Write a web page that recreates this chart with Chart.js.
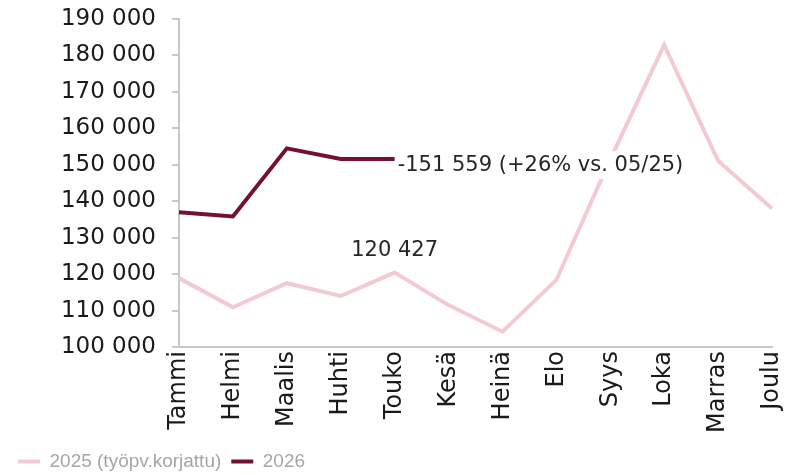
<!DOCTYPE html>
<html lang="fi">
<head>
  <meta charset="UTF-8">
  <title>Kuukausittain</title>
  <script src="https://cdn.jsdelivr.net/npm/chart.js"></script>
  <style>
    html, body { margin: 0; padding: 0; background: #fff; }
    .wrap { width: 803px; height: 475px; position: relative; }
  </style>
</head>
<body>
  <div class="wrap">
    <canvas id="kuukausiChart"></canvas>
  </div>

<script>
  // kuukaudet
  const kuukaudet = ["Tammi", "Helmi", "Maalis", "Huhti", "Touko", "Kesä", "Heinä", "Elo", "Syys", "Loka", "Marras", "Joulu"];
  // 2025 työpäiväkorjattu
  const arvot2025 = [118900, 110900, 117500, 114000, 120427, 111500, 104200, 118400, 151500, 182900, 151100, 138000];
  // 2026 (vain alkuvuosi)
  const arvot2026 = [137000, 135800, 154500, 151600, 151559];
  const yTicks = [100000, 110000, 120000, 130000, 140000, 150000, 160000, 170000, 180000, 190000];

  function muotoile(n) {
    return String(Math.round(n)).replace(/\B(?=(\d{3})+(?!\d))/g, " ");
  }

  const viimeinen = arvot2026.length - 1;
  const muutos = Math.round((arvot2026[viimeinen] / arvot2025[viimeinen] - 1) * 100);

  // tekstit pisteiden viereen
  const tekstiPlugin = {
    id: "tekstit",
    afterDatasetsDraw(chart) {
      const ctx = chart.ctx;
      const x = chart.scales.x.getPixelForValue(viimeinen);
      const y25 = chart.scales.y.getPixelForValue(arvot2025[viimeinen]);
      const y26 = chart.scales.y.getPixelForValue(arvot2026[viimeinen]);
      ctx.save();
      ctx.font = "21px 'DejaVu Sans'";
      ctx.textBaseline = "middle";

      const t2 = "-" + muotoile(arvot2026[viimeinen]) + " (+" + muutos + "% vs. 05/25)";
      const w = ctx.measureText(t2).width;
      ctx.fillStyle = "#fff";
      ctx.fillRect(x + 3, y26 - 8, w + 4, 28);
      ctx.fillStyle = "#262626";
      ctx.textAlign = "left";
      ctx.fillText(t2, x + 3, y26 + 6);

      ctx.textAlign = "center";
      ctx.fillText(muotoile(arvot2025[viimeinen]), x, y25 - 22);
      ctx.restore();
    }
  };

  new Chart(document.getElementById("kuukausiChart"), {
    type: "line",
    data: {
      labels: kuukaudet,
      datasets: [
        {
          label: "2025 (työpv.korjattu)",
          data: arvot2025,
          borderColor: "#f4cad2",
          backgroundColor: "#f4cad2",
          borderWidth: 4,
          pointRadius: 0,
          tension: 0
        },
        {
          label: "2026",
          data: arvot2026,
          borderColor: "#73122f",
          backgroundColor: "#73122f",
          borderWidth: 4,
          pointRadius: 0,
          tension: 0
        }
      ]
    },
    options: {
      responsive: true,
      maintainAspectRatio: false,
      animation: false,
      layout: { padding: { left: 8, right: 31, top: 19, bottom: -6 } },
      plugins: {
        tooltip: { enabled: false },
        legend: {
          position: "bottom",
          align: "start",
          labels: {
            usePointStyle: true,
            pointStyle: "line",
            pointStyleWidth: 22,
            boxWidth: 22,
            boxHeight: 19,
            padding: 10,
            color: "#a6a6a6",
            font: { family: "'Liberation Sans', Arial", size: 19 }
          }
        }
      },
      scales: {
        x: {
          offset: false,
          grid: { display: true, drawOnChartArea: false, drawTicks: false },
          border: { color: "#c8c8c8", width: 2 },
          ticks: {
            autoSkip: false,
            minRotation: 90,
            maxRotation: 90,
            padding: 4,
            color: "#1a1a1a",
            font: { family: "'DejaVu Sans'", size: 24 }
          },
          afterFit(scale) { scale.height = 95; scale.paddingLeft = 0; scale.paddingRight = 0; }
        },
        y: {
          min: 100000,
          max: 190000,
          grid: { drawOnChartArea: false, drawTicks: true, tickLength: 7, color: "#c8c8c8", lineWidth: 2 },
          border: { color: "#c8c8c8", width: 2 },
          afterBuildTicks(scale) { scale.ticks = yTicks.map(v => ({ value: v })); },
          ticks: {
            padding: 16,
            color: "#1a1a1a",
            font: { family: "'DejaVu Sans'", size: 23 },
            callback: v => muotoile(v)
          },
          afterFit(scale) { scale.width = 171; scale.paddingTop = 0; scale.paddingBottom = 0; }
        }
      }
    },
    plugins: [tekstiPlugin]
  });
</script>
</body>
</html>
